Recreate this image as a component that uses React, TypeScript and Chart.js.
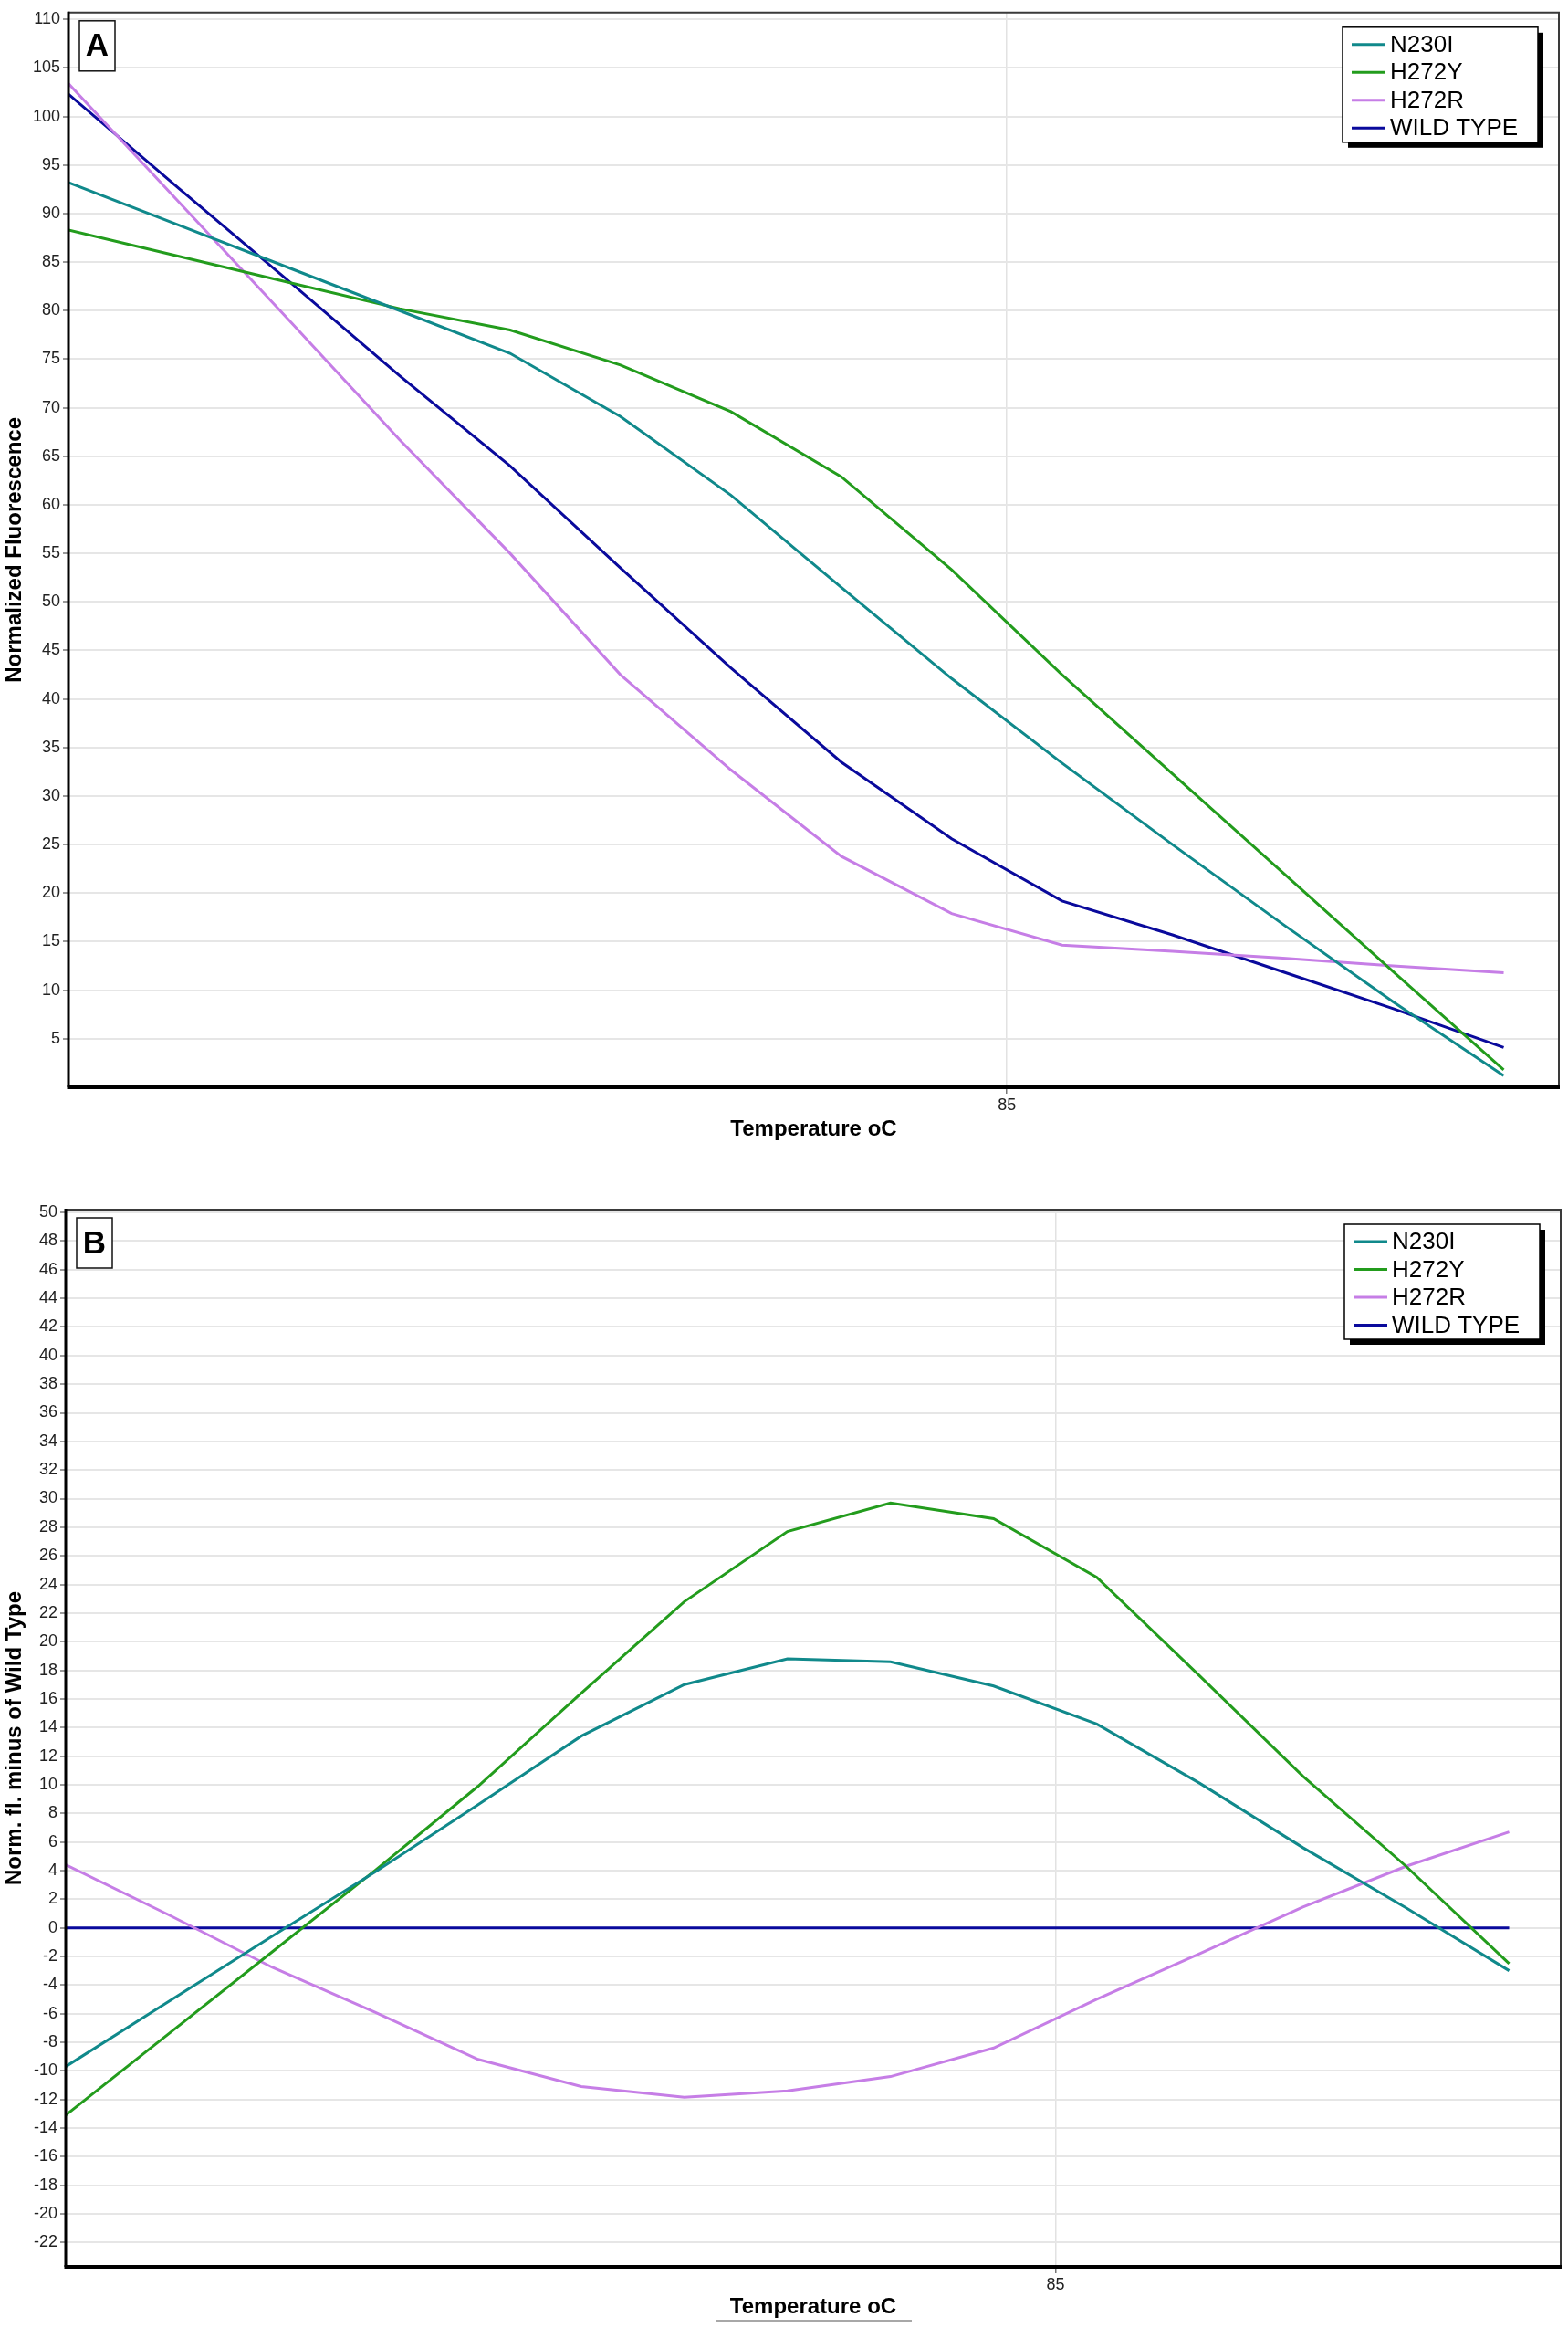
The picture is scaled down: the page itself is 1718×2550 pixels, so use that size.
import { useEffect, useRef } from 'react';
import { Chart, registerables } from 'chart.js';

Chart.register(...registerables);

const SERIES_NAMES = ['N230I', 'H272Y', 'H272R', 'WILD TYPE'];
const SERIES_COLORS = ['#10898b', '#239c1d', '#c67ee6', '#0a0a9c'];

// panel A: normalized melt curves
const TEMPS_A = [80.75, 81.25, 81.75, 82.25, 82.75, 83.25, 83.75, 84.25, 84.75, 85.25, 85.75, 86.25, 86.75, 87.25];
const N230I_A = [93.2, 88.8, 84.4, 80.0, 75.6, 69.1, 61.0, 51.5, 42.1, 33.4, 25.0, 16.8, 8.8, 1.2];
const H272Y_A = [88.3, 85.6, 82.9, 80.2, 78.0, 74.4, 69.6, 62.9, 53.3, 42.5, 32.3, 22.1, 11.9, 1.8];
const H272R_A = [103.4, 91.2, 79.0, 66.7, 55.0, 42.5, 32.7, 23.8, 17.9, 14.65, 14.0, 13.3, 12.5, 11.8];
const WILD_A = [102.3, 92.6, 83.0, 73.3, 64.0, 53.5, 43.2, 33.5, 25.6, 19.2, 15.7, 11.9, 8.1, 4.1];
const Y_TICKS_A = [5, 10, 15, 20, 25, 30, 35, 40, 45, 50, 55, 60, 65, 70, 75, 80, 85, 90, 95, 100, 105, 110];

// panel B: difference to wild type
const TEMPS_B = [80.2, 80.7, 81.2, 81.7, 82.2, 82.7, 83.2, 83.7, 84.2, 84.7, 85.2, 85.7, 86.2, 86.7, 87.2];
const N230I_B = [-9.7, -5.15, -0.6, 3.9, 8.6, 13.4, 17.0, 18.8, 18.6, 16.9, 14.25, 10.1, 5.6, 1.4, -3.0];
const H272Y_B = [-13.1, -7.4, -1.7, 4.0, 9.9, 16.4, 22.8, 27.7, 29.7, 28.6, 24.5, 17.6, 10.6, 4.3, -2.5];
const H272R_B = [4.4, 0.9, -2.75, -5.9, -9.2, -11.1, -11.85, -11.4, -10.4, -8.4, -5.0, -1.8, 1.45, 4.3, 6.7];
const WILD_B = [0, 0, 0, 0, 0, 0, 0, 0, 0, 0, 0, 0, 0, 0, 0];
const Y_TICKS_B = [-22, -20, -18, -16, -14, -12, -10, -8, -6, -4, -2, 0, 2, 4, 6, 8, 10, 12, 14, 16, 18, 20, 22, 24, 26, 28, 30, 32, 34, 36, 38, 40, 42, 44, 46, 48, 50];

const X_TICKS = [85];

const TICK_FONT = "'Liberation Sans Narrow', 'Liberation Sans', Arial, sans-serif";
const BOLD_FONT = "'Liberation Sans', Arial, sans-serif";

const framePlugin = {
  id: 'frame',
  afterDraw(chart: any, _args: any, opts: any) {
    const { ctx, chartArea: a } = chart;
    ctx.save();
    // thin top/right border
    ctx.strokeStyle = '#3a3a3a';
    ctx.lineWidth = 2;
    ctx.beginPath();
    ctx.moveTo(a.left, a.top);
    ctx.lineTo(a.right, a.top);
    ctx.lineTo(a.right, a.bottom);
    ctx.stroke();
    // heavy axes
    ctx.strokeStyle = '#000';
    ctx.lineWidth = 3;
    ctx.beginPath();
    ctx.moveTo(a.left, a.top - 1);
    ctx.lineTo(a.left, a.bottom);
    ctx.stroke();
    ctx.lineWidth = 4;
    ctx.beginPath();
    ctx.moveTo(a.left - 1.5, a.bottom);
    ctx.lineTo(a.right + 1, a.bottom);
    ctx.stroke();

    // panel letter
    const lx = a.left + 12, ly = a.top + 9;
    ctx.fillStyle = '#fff';
    ctx.fillRect(lx, ly, 39, 55);
    ctx.lineWidth = 1.5;
    ctx.strokeStyle = '#111';
    ctx.strokeRect(lx, ly, 39, 55);
    ctx.fillStyle = '#000';
    ctx.font = `bold 35px ${BOLD_FONT}`;
    ctx.textAlign = 'center';
    ctx.textBaseline = 'middle';
    ctx.fillText(opts.letter, lx + 19.5, ly + 29);

    // legend with drop shadow
    const bw = 214, bh = 126;
    const bx = a.right - 23 - bw, by = a.top + 16;
    ctx.fillStyle = '#000';
    ctx.fillRect(bx + 6, by + 6, bw, bh);
    ctx.fillStyle = '#fff';
    ctx.fillRect(bx, by, bw, bh);
    ctx.strokeStyle = '#000';
    ctx.lineWidth = 1.5;
    ctx.strokeRect(bx, by, bw, bh);
    ctx.textAlign = 'left';
    ctx.font = `26px ${BOLD_FONT}`;
    chart.data.datasets.forEach((ds: any, i: number) => {
      const y = by + 19 + i * 30.5;
      ctx.strokeStyle = ds.borderColor;
      ctx.lineWidth = 3;
      ctx.beginPath();
      ctx.moveTo(bx + 10, y);
      ctx.lineTo(bx + 47, y);
      ctx.stroke();
      ctx.fillStyle = '#000';
      ctx.fillText(ds.label, bx + 52, y + 1);
    });

    if (opts.underline) {
      const cx = (a.left + a.right) / 2;
      ctx.strokeStyle = '#a8a8a8';
      ctx.lineWidth = 2;
      ctx.beginPath();
      ctx.moveTo(cx - 107, chart.height - 8);
      ctx.lineTo(cx + 108, chart.height - 8);
      ctx.stroke();
    }
    ctx.restore();
  },
};

interface PanelProps {
  letter: string;
  temps: number[];
  series: number[][];
  xMin: number;
  xMax: number;
  yMin: number;
  yMax: number;
  yTicks: number[];
  yTitle: string;
  width: number;
  height: number;
  padTop: number;
  padRight: number;
  axisW: number;
  axisH: number;
  titlePad: number;
  underline?: boolean;
}

function Panel(p: PanelProps) {
  const canvasRef = useRef<HTMLCanvasElement>(null);

  useEffect(() => {
    if (!canvasRef.current) return;
    const datasets = p.series.map((vals, i) => ({
      label: SERIES_NAMES[i],
      data: vals.map((v, j) => ({ x: p.temps[j], y: v })),
      borderColor: SERIES_COLORS[i],
      backgroundColor: SERIES_COLORS[i],
      borderWidth: 3,
      pointRadius: 0,
      tension: 0,
      fill: false,
    }));

    const chart = new Chart(canvasRef.current, {
      type: 'line',
      data: { datasets },
      plugins: [framePlugin],
      options: {
        responsive: false,
        animation: false,
        devicePixelRatio: 1,
        layout: { padding: { top: p.padTop, right: p.padRight, left: 0, bottom: 0 } },
        plugins: {
          legend: { display: false },
          tooltip: { enabled: false },
          frame: { letter: p.letter, underline: !!p.underline },
        } as any,
        scales: {
          x: {
            type: 'linear',
            min: p.xMin,
            max: p.xMax,
            afterBuildTicks: (s: any) => { s.ticks = X_TICKS.map(value => ({ value })); },
            afterFit: (s: any) => { s.height = p.axisH; },
            border: { display: false },
            grid: { color: '#e2e2e2', lineWidth: 1.5, tickColor: '#777', tickLength: 7, tickWidth: 1.5 },
            ticks: { color: '#222', font: { family: TICK_FONT, size: 18 }, padding: 2, maxRotation: 0, callback: (v: any) => String(v) },
            title: {
              display: true,
              text: 'Temperature oC',
              color: '#000',
              font: { family: BOLD_FONT, size: 24, weight: 'bold' },
              padding: { top: 0, bottom: p.titlePad },
            },
          },
          y: {
            type: 'linear',
            min: p.yMin,
            max: p.yMax,
            afterBuildTicks: (s: any) => { s.ticks = p.yTicks.map(value => ({ value })); },
            afterFit: (s: any) => { s.width = p.axisW; },
            border: { display: false },
            grid: { color: '#e6e6e6', lineWidth: 2, tickColor: '#777', tickLength: 6, tickWidth: 1.5 },
            ticks: { color: '#222', font: { family: TICK_FONT, size: 18 }, padding: 3, callback: (v: any) => String(v) },
            title: {
              display: true,
              text: p.yTitle,
              color: '#000',
              font: { family: BOLD_FONT, size: 24, weight: 'bold' },
              padding: { top: 2, bottom: 0 },
            },
          },
        },
      },
    });

    return () => { chart.destroy(); };
  }, []);

  return (
    <canvas
      ref={canvasRef}
      width={p.width}
      height={p.height}
      style={{ display: 'block', width: p.width, height: p.height }}
    />
  );
}

export default function App() {
  return (
    <div style={{ position: 'absolute', left: 0, top: 0, width: 1718, height: 2550, background: '#fff' }}>
      <Panel
        letter="A"
        temps={TEMPS_A}
        series={[N230I_A, H272Y_A, H272R_A, WILD_A]}
        xMin={80.75}
        xMax={87.5}
        yMin={0}
        yMax={110.7}
        yTicks={Y_TICKS_A}
        yTitle="Normalized Fluorescence"
        width={1718}
        height={1262}
        padTop={7}
        padRight={10}
        axisW={75}
        axisH={71}
        titlePad={10}
      />
      <Panel
        letter="B"
        temps={TEMPS_B}
        series={[N230I_B, H272Y_B, H272R_B, WILD_B]}
        xMin={80.2}
        xMax={87.45}
        yMin={-23.7}
        yMax={50.2}
        yTicks={Y_TICKS_B}
        yTitle="Norm. fl. minus of Wild Type"
        width={1718}
        height={1288}
        padTop={63}
        padRight={8}
        axisW={72}
        axisH={67}
        titlePad={8}
        underline
      />
    </div>
  );
}
